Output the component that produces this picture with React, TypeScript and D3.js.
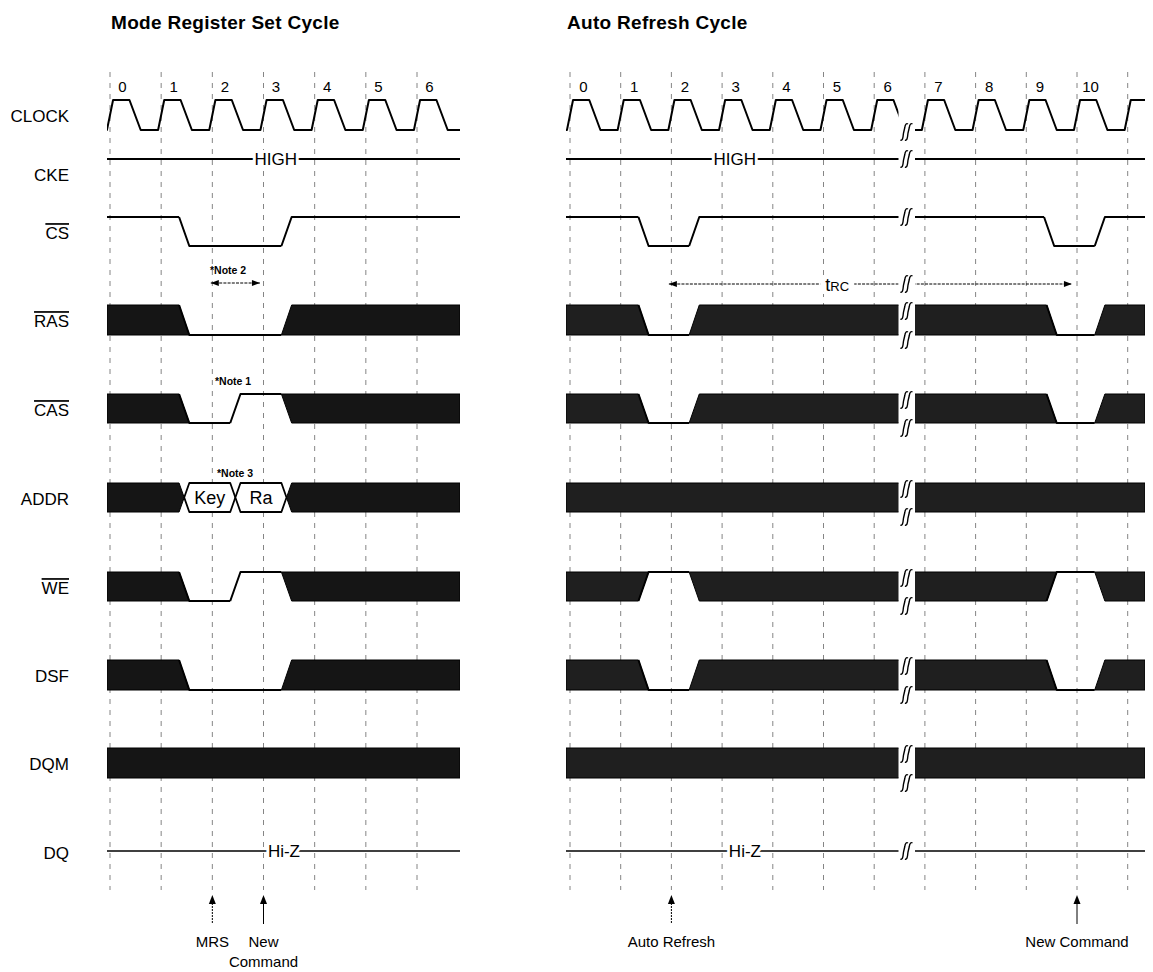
import React from 'react';
import * as d3 from 'd3';

// ---------------- data ----------------
const mrsCycleLabels = ['0', '1', '2', '3', '4', '5', '6'];
const arCycleLabels = ['0', '1', '2', '3', '4', '5', '6', '7', '8', '9', '10'];
const signalNames = ['CLOCK', 'CKE', 'CS', 'RAS', 'CAS', 'ADDR', 'WE', 'DSF', 'DQM', 'DQ'];
const activeLowSignals = ['CS', 'RAS', 'CAS', 'WE'];

// waveform segments: [start (clock cycles), state, text]
// H = high, L = low, X = don't care, V = valid bus value
type Seg = [number, string, string?];

const mrsCS: Seg[] = [[-1, 'H'], [1.35, 'L'], [3.35, 'H']];
const mrsRAS: Seg[] = [[-1, 'X'], [1.35, 'L'], [3.35, 'X']];
const mrsCAS: Seg[] = [[-1, 'X'], [1.35, 'L'], [2.35, 'H'], [3.35, 'X']];
const mrsADDR: Seg[] = [[-1, 'X'], [1.35, 'V', 'Key'], [2.35, 'V', 'Ra'], [3.35, 'X']];
const mrsWE: Seg[] = [[-1, 'X'], [1.35, 'L'], [2.35, 'H'], [3.35, 'X']];
const mrsDSF: Seg[] = [[-1, 'X'], [1.35, 'L'], [3.35, 'X']];
const mrsDQM: Seg[] = [[-1, 'X']];
const mrsCKE = 'HIGH';
const mrsDQ = 'Hi-Z';

const arCS: Seg[] = [[-1, 'H'], [1.35, 'L'], [2.35, 'H'], [9.35, 'L'], [10.35, 'H']];
const arRAS: Seg[] = [[-1, 'X'], [1.35, 'L'], [2.35, 'X'], [9.4, 'L'], [10.35, 'X']];
const arCAS: Seg[] = [[-1, 'X'], [1.35, 'L'], [2.35, 'X'], [9.4, 'L'], [10.35, 'X']];
const arADDR: Seg[] = [[-1, 'X']];
const arWE: Seg[] = [[-1, 'X'], [1.35, 'H'], [2.35, 'X'], [9.4, 'H'], [10.35, 'X']];
const arDSF: Seg[] = [[-1, 'X'], [1.35, 'L'], [2.35, 'X'], [9.4, 'L'], [10.35, 'X']];
const arDQM: Seg[] = [[-1, 'X']];
const arCKE = 'HIGH';
const arDQ = 'Hi-Z';

const mrsNotes = ['*Note 1', '*Note 2', '*Note 3'];
const mrsNote2Span = [1.97, 2.93];
const arTrcSpan = [1.95, 9.9];
const arTrcLabel = ['t', 'RC'];

const mrsMarkers = [
  { t: 2, lines: ['MRS'], dotted: true },
  { t: 3, lines: ['New', 'Command'], dotted: false },
];
const arMarkers = [
  { t: 2, lines: ['Auto Refresh'], dotted: true },
  { t: 10, lines: ['New Command'], dotted: false },
];

// ---------------- layout ----------------
const FONT = '"Liberation Sans", Arial, Helvetica, sans-serif';
const rows: Record<string, { top: number; bot: number; label: number }> = {
  CLOCK: { top: 100, bot: 130, label: 116 },
  CKE: { top: 159, bot: 188, label: 175 },
  CS: { top: 217, bot: 246, label: 233 },
  RAS: { top: 305, bot: 335, label: 321 },
  CAS: { top: 394, bot: 423, label: 410 },
  ADDR: { top: 483, bot: 512, label: 499 },
  WE: { top: 572, bot: 601, label: 588 },
  DSF: { top: 660, bot: 690, label: 676 },
  DQM: { top: 748, bot: 778, label: 764 },
  DQ: { top: 851, bot: 851, label: 853 },
};
const TR = 0.2; // transition width in cycles

type Pt = [number, number];
const line = d3.line<Pt>();

function busElements(segs: Seg[], x: d3.ScaleLinear<number, number>, top: number, bot: number,
  x0: number, x1: number, fill: string, keyPrefix: string) {
  const mid = (top + bot) / 2;
  const els: React.ReactNode[] = [];
  segs.forEach((s, i) => {
    const prev = segs[i - 1];
    const next = segs[i + 1];
    const ts = s[0];
    const te = next ? next[0] : 0;
    const st = s[1];
    if (st === 'X' || st === 'V') {
      let tl: Pt, bl: Pt, ml: Pt | null = null;
      if (!prev) { tl = [x0, top]; bl = [x0, bot]; }
      else if (prev[1] === 'L') { tl = [x(ts + TR), top]; bl = [x(ts), bot]; }
      else if (prev[1] === 'H') { tl = [x(ts), top]; bl = [x(ts + TR), bot]; }
      else { tl = [x(ts + TR), top]; bl = [x(ts + TR), bot]; ml = [x(ts + TR / 2), mid]; }
      let tr: Pt, br: Pt, mr: Pt | null = null;
      if (!next) { tr = [x1, top]; br = [x1, bot]; }
      else if (next[1] === 'L') { tr = [x(te), top]; br = [x(te + TR), bot]; }
      else if (next[1] === 'H') { tr = [x(te + TR), top]; br = [x(te), bot]; }
      else { tr = [x(te), top]; br = [x(te), bot]; mr = [x(te + TR / 2), mid]; }
      const pts = [tl, tr, mr, br, bl, ml].filter(Boolean) as Pt[];
      els.push(
        <path key={`${keyPrefix}-p${i}`} d={line(pts) + 'Z'}
          fill={st === 'X' ? fill : '#fff'} stroke="#000"
          strokeWidth={st === 'X' ? 1 : 1.8} strokeLinejoin="round" />
      );
      if (st === 'V' && s[2]) {
        const cx = x(((ts + TR / 2) + (te + TR / 2)) / 2);
        els.push(
          <text key={`${keyPrefix}-t${i}`} x={cx} y={mid} dy="0.36em" textAnchor="middle"
            fontSize={18} fontFamily={FONT} fill="#000">{s[2]}</text>
        );
      }
    } else {
      const y = st === 'H' ? top : bot;
      const oy = st === 'H' ? bot : top;
      const pts: Pt[] = [];
      if (!prev) pts.push([x0, y]);
      else { pts.push([x(ts), oy]); pts.push([x(ts + TR), y]); }
      if (!next) pts.push([x1, y]);
      else pts.push([x(te), y]);
      els.push(
        <path key={`${keyPrefix}-l${i}`} d={line(pts) || ''} fill="none" stroke="#000"
          strokeWidth={2} strokeLinejoin="round" />
      );
    }
  });
  return els;
}

function clockPath(x: d3.ScaleLinear<number, number>, kmin: number, kmax: number, top: number, bot: number) {
  const pts: Pt[] = [];
  for (let k = kmin; k <= kmax; k++) {
    pts.push([x(k - 0.06), bot], [x(k + 0.06), top], [x(k + 0.38), top], [x(k + 0.6), bot]);
  }
  return line(pts) || '';
}

function breakGlyph(cx: number, cy: number, key: string) {
  const one = (ox: number) =>
    `M${ox - 4},${cy + 8} C${ox - 2},${cy + 9} ${ox - 1.5},${cy + 6} ${ox - 1},${cy + 1} ` +
    `L${ox + 0.2},${cy - 4} C${ox + 0.8},${cy - 8} ${ox + 2},${cy - 9} ${ox + 3.5},${cy - 8}`;
  return (
    <g key={key}>
      <path d={one(cx - 2)} fill="none" stroke="#000" strokeWidth={1.4} />
      <path d={one(cx + 2.5)} fill="none" stroke="#000" strokeWidth={1.4} />
    </g>
  );
}

function arrowHead(x: number, y: number, dir: 'left' | 'right' | 'up', key: string) {
  let pts: Pt[];
  if (dir === 'left') pts = [[x, y], [x + 8, y - 3], [x + 8, y + 3]];
  else if (dir === 'right') pts = [[x, y], [x - 8, y - 3], [x - 8, y + 3]];
  else pts = [[x, y], [x - 3.5, y + 9], [x + 3.5, y + 9]];
  return <path key={key} d={line(pts) + 'Z'} fill="#000" />;
}

export default function App() {
  const xL = d3.scaleLinear().domain([0, 6]).range([110, 417]);
  const xR = d3.scaleLinear().domain([0, 10]).range([570, 1077]);

  const panels = [
    {
      id: 'L', x: xL, x0: 107, x1: 460, title: 'Mode Register Set Cycle', titleX: 111,
      cycles: mrsCycleLabels, gridN: 7, fill: '#151515', brk: null as number | null,
      buses: { CS: mrsCS, RAS: mrsRAS, CAS: mrsCAS, ADDR: mrsADDR, WE: mrsWE, DSF: mrsDSF, DQM: mrsDQM } as Record<string, Seg[]>,
      cke: mrsCKE, dq: mrsDQ, ckeT: 3.24, dqT: 3.4, labelOff: 12.5,
      markers: mrsMarkers,
    },
    {
      id: 'R', x: xR, x0: 566, x1: 1145, title: 'Auto Refresh Cycle', titleX: 567,
      cycles: arCycleLabels, gridN: 12, fill: '#1f1f1f', brk: 906.5 as number | null,
      buses: { CS: arCS, RAS: arRAS, CAS: arCAS, ADDR: arADDR, WE: arWE, DSF: arDSF, DQM: arDQM } as Record<string, Seg[]>,
      cke: arCKE, dq: arDQ, ckeT: 3.25, dqT: 3.45, labelOff: 13.5,
      markers: arMarkers,
    },
  ];

  const gridTop = 72, gridBot = 890;

  return (
    <svg width={1153} height={972} viewBox="0 0 1153 972"
      style={{ position: 'absolute', left: 0, top: 0, background: '#fff' }}>
      <rect x={0} y={0} width={1153} height={972} fill="#fff" />
      <defs>
        <clipPath id="clipL"><rect x={107} y={0} width={353} height={972} /></clipPath>
        <clipPath id="clipR">
          <rect x={566} y={0} width={332.5} height={972} />
          <rect x={915} y={0} width={230} height={972} />
        </clipPath>
      </defs>

      {/* signal names */}
      {signalNames.map(n => (
        <text key={n} x={69} y={rows[n].label} dy="0.36em" textAnchor="end" fontSize={17}
          fontFamily={FONT} fill="#000"
          style={activeLowSignals.includes(n) ? { textDecoration: 'overline' } : undefined}>{n}</text>
      ))}

      {panels.map(p => {
        const x = p.x;
        const clip = `url(#clip${p.id})`;
        const gridTs = d3.range(p.gridN);
        const els: React.ReactNode[] = [];
        // grid
        gridTs.forEach(t => els.push(
          <line key={`g${t}`} x1={x(t)} x2={x(t)} y1={gridTop} y2={gridBot}
            stroke="#777" strokeWidth={0.9} strokeDasharray="5,6" />
        ));
        // title
        els.push(<text key="title" x={p.titleX} y={29} fontSize={19} fontWeight={700}
          fontFamily={FONT} letterSpacing={0.3} fill="#000">{p.title}</text>);
        // cycle labels
        p.cycles.forEach((c, i) => els.push(
          <text key={`c${i}`} x={x(i) + p.labelOff} y={92} textAnchor="middle" fontSize={15}
            fontFamily={FONT} fill="#000">{c}</text>
        ));
        // clock
        const wave: React.ReactNode[] = [];
        wave.push(<path key="clk" d={clockPath(x, -1, p.gridN + 1, rows.CLOCK.top, rows.CLOCK.bot)}
          fill="none" stroke="#000" strokeWidth={2} strokeLinejoin="round" />);
        // CKE and DQ lines
        wave.push(<line key="cke" x1={p.x0} x2={p.x1} y1={rows.CKE.top} y2={rows.CKE.top} stroke="#000" strokeWidth={2} />);
        wave.push(<line key="dq" x1={p.x0} x2={p.x1} y1={rows.DQ.top} y2={rows.DQ.top} stroke="#000" strokeWidth={1.6} />);
        // buses
        Object.keys(p.buses).forEach(n => {
          wave.push(...busElements(p.buses[n], x, rows[n].top, rows[n].bot, p.x0, p.x1, p.fill, `${p.id}${n}`));
        });
        // tRC arrow (right panel)
        if (p.id === 'R') {
          const y = 284;
          wave.push(<line key="trc" x1={x(arTrcSpan[0])} x2={x(arTrcSpan[1])} y1={y} y2={y}
            stroke="#000" strokeWidth={1} strokeDasharray="3,1.2" />);
          wave.push(arrowHead(x(arTrcSpan[0]), y, 'left', 'trcA'));
          wave.push(arrowHead(x(arTrcSpan[1]), y, 'right', 'trcB'));
        }
        els.push(<g key="wave" clipPath={clip}>{wave}</g>);

        // HIGH / Hi-Z labels
        els.push(<text key="ckeT" x={x(p.ckeT)} y={rows.CKE.top} dy="0.36em" textAnchor="middle"
          fontSize={17} fontFamily={FONT} fill="#000" stroke="#fff" strokeWidth={6}
          paintOrder="stroke">{p.cke}</text>);
        els.push(<text key="dqT" x={x(p.dqT)} y={rows.DQ.top} dy="0.36em" textAnchor="middle"
          fontSize={17} fontFamily={FONT} fill="#000" stroke="#fff" strokeWidth={6}
          paintOrder="stroke">{p.dq}</text>);

        if (p.id === 'R') {
          const cx = x(5.27);
          els.push(<rect key="trcBg" x={cx - 17} y={277} width={34} height={17} fill="#fff" />);
          els.push(<text key="trcT" x={cx} y={291} textAnchor="middle" fontFamily={FONT}
            fill="#000" fontSize={18}>
            <tspan>{arTrcLabel[0]}</tspan><tspan fontSize={13}>{arTrcLabel[1]}</tspan>
          </text>);
        }

        // notes (left panel)
        if (p.id === 'L') {
          els.push(<text key="n1" x={215} y={385} fontSize={10.5} fontWeight={700} fontFamily={FONT}>{mrsNotes[0]}</text>);
          els.push(<text key="n2" x={210} y={274} fontSize={10.5} fontWeight={700} fontFamily={FONT}>{mrsNotes[1]}</text>);
          els.push(<text key="n3" x={217} y={477} fontSize={10.5} fontWeight={700} fontFamily={FONT}>{mrsNotes[2]}</text>);
          const y = 283;
          els.push(<line key="n2l" x1={x(mrsNote2Span[0])} x2={x(mrsNote2Span[1])} y1={y} y2={y}
            stroke="#000" strokeWidth={1} strokeDasharray="3,1.2" />);
          els.push(arrowHead(x(mrsNote2Span[0]), y, 'left', 'n2a'));
          els.push(arrowHead(x(mrsNote2Span[1]), y, 'right', 'n2b'));
        }

        // break glyphs
        if (p.brk !== null) {
          const bx = p.brk;
          els.push(breakGlyph(bx, 132, 'bClk'));
          els.push(breakGlyph(bx, rows.CKE.top, 'bCke'));
          els.push(breakGlyph(bx, rows.CS.top, 'bCs'));
          els.push(breakGlyph(bx, 284, 'bTrc'));
          ['RAS', 'CAS', 'ADDR', 'WE', 'DSF', 'DQM'].forEach(n => {
            els.push(breakGlyph(bx, rows[n].top + 6, `bt${n}`));
            els.push(breakGlyph(bx, rows[n].bot + 5, `bb${n}`));
          });
          els.push(breakGlyph(bx, rows.DQ.top, 'bDq'));
        }

        // markers
        p.markers.forEach((m, i) => {
          const mx = x(m.t);
          els.push(<line key={`m${i}`} x1={mx} x2={mx} y1={903} y2={924} stroke="#000"
            strokeWidth={1} strokeDasharray={m.dotted ? '2,1' : undefined} />);
          els.push(arrowHead(mx, 895, 'up', `ma${i}`));
          m.lines.forEach((ln, j) => els.push(
            <text key={`mt${i}-${j}`} x={mx} y={947 + j * 20} textAnchor="middle" fontSize={15}
              fontFamily={FONT} fill="#000">{ln}</text>
          ));
        });

        return <g key={p.id}>{els}</g>;
      })}
    </svg>
  );
}
